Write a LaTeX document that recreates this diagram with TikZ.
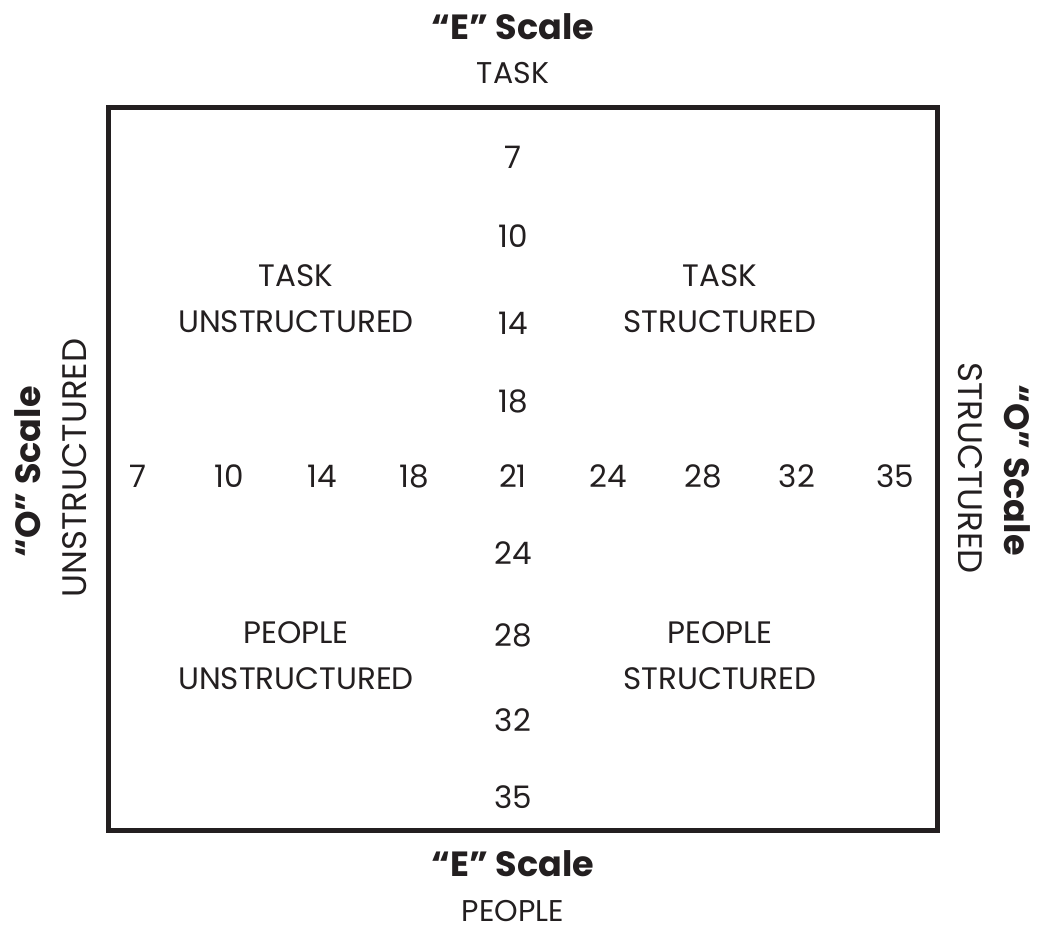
\documentclass[tikz,border=0pt]{standalone}
\usepackage{fontspec}
\setmainfont{Poppins}
\definecolor{ink}{HTML}{231F20}
\begin{document}
\begin{tikzpicture}[x=1pt,y=-1pt,
  base/.style={text=ink,inner sep=0pt,anchor=center},
  side/.style={base,font=\fontsize{34}{40}\selectfont},
  lab/.style={base,font=\fontsize{31}{46}\selectfont},
  top/.style={base,font=\fontsize{30}{36}\selectfont},
  num/.style={base,font=\fontsize{31}{34}\selectfont},
  ttl/.style={base,font=\fontsize{35}{38}\selectfont\bfseries}]
\useasboundingbox[fill=white] (0,0) rectangle (1039,933);
\draw[ink,line width=5pt] (108.5,107.5) rectangle (937.5,830.5);
\node[ttl] (et) at (513,27) {“E” Scale};
\node[top] (task) at (513,73) {TASK};
\node[ttl] (eb) at (513,864) {“E” Scale};
\node[top] (people) at (513,911) {PEOPLE};
\node[ttl,rotate=90] (ol) at (28,472) {“O” Scale};
\node[side,rotate=90] (ul) at (75,468) {UNSTRUCTURED};
\node[side,rotate=-90] (sr) at (970,468) {STRUCTURED};
\node[ttl,rotate=-90] (or) at (1017,470) {“O” Scale};
\foreach \v/\y [count=\i] in {7/157,10/236,14/323,18/401,21/476,24/553,28/635,32/720,35/797}
  \node[num] (v\i) at (513,\y) {\v};
\foreach \v/\x [count=\i] in {7/138,10/229,14/322,18/414,24/608,28/703,32/797,35/895}
  \node[num] (h\i) at (\x,476) {\v};
\node[lab,align=center] (tu) at (296,299) {TASK\\UNSTRUCTURED};
\node[lab,align=center] (ts) at (720,299) {TASK\\STRUCTURED};
\node[lab,align=center] (pu) at (296,656) {PEOPLE\\UNSTRUCTURED};
\node[lab,align=center] (ps) at (720,656) {PEOPLE\\STRUCTURED};
\end{tikzpicture}
\end{document}
